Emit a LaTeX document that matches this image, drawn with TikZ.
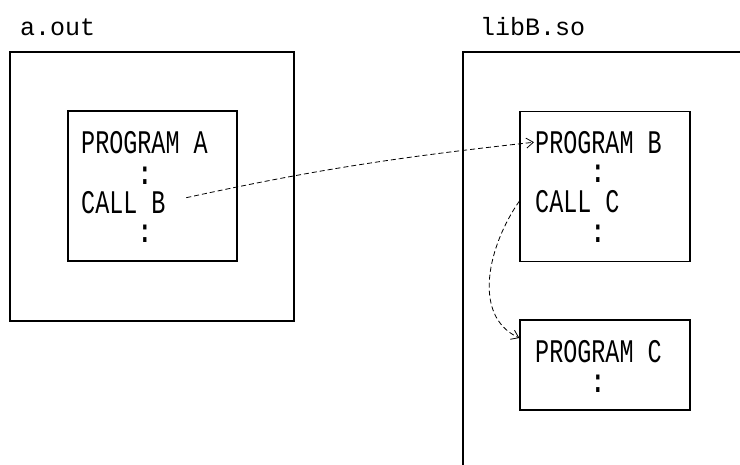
\documentclass[tikz,border=0pt]{standalone}
\usepackage{fontspec}
\newfontfamily\boxfont[FakeStretch=0.71]{Liberation Mono}
\newfontfamily\labfont{Liberation Mono}
\usetikzlibrary{arrows.meta}
\begin{document}
\begin{tikzpicture}[x=1pt,y=-1pt,
  frame/.style={draw,line width=1.3pt,inner sep=0pt},
  txt/.style={font=\boxfont\fontsize{33}{33}\selectfont,inner sep=0pt,anchor=base west},
  colon/.style={font=\boxfont\bfseries\fontsize{33}{33}\selectfont,inner sep=0pt},
  lab/.style={font=\labfont\fontsize{25}{25}\selectfont,inner sep=0pt,anchor=base west},
  call/.style={dash pattern=on 5pt off 3pt,line width=0.8pt,-{Straight Barb[length=7pt,width=10pt]}}]
\useasboundingbox (0,0) rectangle (740,464);
\clip (0,0) rectangle (740,464);
% labels
\node[lab] (labA) at (20,35) {a.out};
\node[lab] (labB) at (480,35) {libB.so};
% frames
\node[frame,minimum width=284pt,minimum height=269pt] (outerA) at (152,186.5) {};
\node[frame,minimum width=169pt,minimum height=150pt] (innerA) at (152.5,186) {};
\node[frame,minimum width=337pt,minimum height=468pt] (outerB) at (631.5,286) {};
\node[frame,minimum width=170pt,minimum height=150pt] (innerB) at (605,186.5) {};
\node[frame,minimum width=170pt,minimum height=90pt] (innerC) at (605,365) {};
% box A text
\node[txt] (progA) at (81,153) {PROGRAM A};
\node[colon] (cA1) at (145,176) {:};
\node[txt] (callB) at (81,213) {CALL B};
\node[colon] (cA2) at (145,234) {:};
% box B text
\node[txt] (progB) at (535,153) {PROGRAM B};
\node[colon] (cB1) at (598,174) {:};
\node[txt] (callC) at (535,212) {CALL C};
\node[colon] (cB2) at (598,234) {:};
% box C text
\node[txt] (progC) at (535,362) {PROGRAM C};
\node[colon] (cC1) at (598,384) {:};
% connectors
\draw[call,shorten <=21pt,shorten >=1pt] (callB.east) to[bend left=3] (progB.west);
\draw[call] (innerB.west |- callC.west) to[out=235,in=155] ([yshift=27pt]innerC.west);
\end{tikzpicture}
\end{document}
